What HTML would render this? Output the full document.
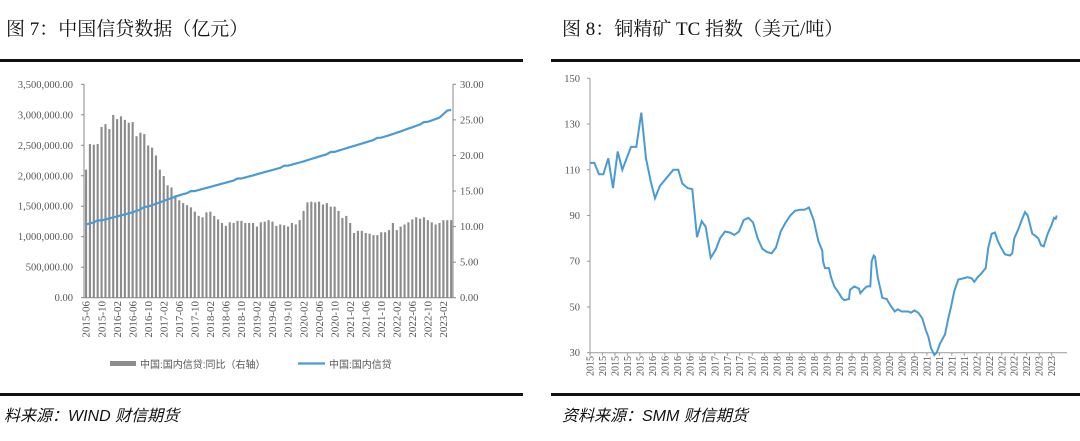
<!DOCTYPE html>
<html><head><meta charset="utf-8">
<style>
html,body{margin:0;padding:0;background:#fff;}
body{width:1080px;height:441px;overflow:hidden;position:relative;font-family:"Liberation Serif","Noto Serif CJK SC",serif;}
.t{position:absolute;top:14px;font-size:19px;color:#111;font-family:"Liberation Serif","Noto Serif CJK SC",serif;}
.src{position:absolute;top:402px;font-size:16px;font-style:italic;color:#111;font-family:"Liberation Sans","Noto Sans CJK SC",sans-serif;}
.ln{position:absolute;height:3px;background:#111;}
svg{position:absolute;left:0;top:0;}
</style></head><body>
<div class="t" style="left:6px">图 7：中国信贷数据（亿元）</div>
<div class="t" style="left:562px">图 8：铜精矿 TC 指数（美元/吨）</div>
<div class="ln" style="left:0;width:523px;top:59px"></div>
<div class="ln" style="left:551px;width:529px;top:59px"></div>
<div class="ln" style="left:0;width:523px;top:393px"></div>
<div class="ln" style="left:551px;width:529px;top:393px"></div>
<div class="src" style="left:4px">料来源：WIND 财信期货</div>
<div class="src" style="left:562px">资料来源：SMM 财信期货</div>
<svg id="s" width="1080" height="441" xmlns="http://www.w3.org/2000/svg" font-family="Liberation Serif, serif"></svg>
<script>
var s=document.getElementById('s'),h='';
var L=84,R=453,Y0=297.7,Y1=84.3;
var bars=[18,21.6,21.5,21.6,24,24.4,23.7,25.7,25.1,25.5,25,24.6,24.7,22.7,23.2,23,21.4,21.1,20,18,17.1,15.8,15.5,14.4,13.7,13.3,13,12.7,12.1,11.5,11.3,12,12.1,11.5,11,10.5,10.1,10.6,10.5,10.8,10.8,10.5,10.5,10.5,10,10.6,10.7,10.9,10.7,10.1,10.3,10.2,10,10.5,10.3,10.9,12.2,13.4,13.5,13.4,13.5,13.1,13.3,12.8,12.8,12.2,11.2,11.5,10.5,9.1,9.4,9.4,9.1,9,8.8,8.8,9.2,9.2,9.5,10.5,9.5,10,10.3,10.6,11,11.3,11.1,11.3,10.9,10.6,10.3,10.5,10.9,10.9,10.9];
var n=bars.length,step=(R-L)/n,k=(Y0-Y1)/30;
for(var i=0;i<n;i++){var x=L+i*step+step*0.25,y=Y0-bars[i]*k;h+='<rect x="'+x.toFixed(2)+'" y="'+y.toFixed(2)+'" width="'+(step*0.55).toFixed(2)+'" height="'+(Y0-y).toFixed(2)+'" fill="#8c8c8c"/>';}
var kp=[[0,10.3],[12,12],[24,14.4],[43,17.2],[55,19.0],[67,21.0],[79,23.0],[91,25.3],[93,26.3],[94,26.4]];
var pts=[];
for(var i=0;i<n;i++){var v;for(var j=0;j<kp.length-1;j++){if(i>=kp[j][0]&&i<=kp[j+1][0]){v=kp[j][1]+(kp[j+1][1]-kp[j][1])*(i-kp[j][0])/(kp[j+1][0]-kp[j][0]);break;}}
 if(i%12==3)v+=0.15;pts.push((L+i*step+step/2).toFixed(1)+','+(Y0-v*k).toFixed(1));}
h+='<polyline points="'+pts.join(' ')+'" fill="none" stroke="#4a9bd4" stroke-width="2.2"/>';
h+='<line x1="'+L+'" y1="'+Y1+'" x2="'+L+'" y2="'+Y0+'" stroke="#888"/><line x1="'+R+'" y1="'+Y1+'" x2="'+R+'" y2="'+Y0+'" stroke="#888"/><line x1="'+L+'" y1="'+Y0+'" x2="'+R+'" y2="'+Y0+'" stroke="#888"/>';
var ll=['0.00','500,000.00','1,000,000.00','1,500,000.00','2,000,000.00','2,500,000.00','3,000,000.00','3,500,000.00'];
for(var i=0;i<8;i++){var y=Y0-i*(Y0-Y1)/7;h+='<text x="73" y="'+(y+3.5).toFixed(1)+'" font-size="10.5" fill="#555" text-anchor="end">'+ll[i]+'</text><line x1="'+(L-3)+'" y1="'+y+'" x2="'+L+'" y2="'+y+'" stroke="#888"/>';}
for(var i=0;i<7;i++){var y=Y0-i*5*k;h+='<text x="460" y="'+(y+3.5).toFixed(1)+'" font-size="10.5" fill="#555">'+(i*5).toFixed(2)+'</text><line x1="'+R+'" y1="'+y+'" x2="'+(R+3)+'" y2="'+y+'" stroke="#888"/>';}
for(var i=0;i<24;i++){var mi=i*4,yy=2015+Math.floor((5+mi)/12),mm=((5+mi)%12)+1;var lab=yy+'-'+(mm<10?'0':'')+mm;var x=L+mi*step+step/2;
h+='<text transform="translate('+(x+3.8).toFixed(1)+',301) rotate(-90)" font-size="11" fill="#555" text-anchor="end">'+lab+'</text>';}
h+='<rect x="110" y="361" width="26" height="5" fill="#8c8c8c"/><text x="140" y="368" font-size="10" fill="#555" font-family="Liberation Sans, Noto Sans CJK SC, sans-serif">中国:国内信贷:同比（右轴）</text>';
h+='<line x1="298" y1="363.5" x2="325" y2="363.5" stroke="#4a9bd4" stroke-width="2.2"/><text x="329" y="368" font-size="10" fill="#555" font-family="Liberation Sans, Noto Sans CJK SC, sans-serif">中国:国内信贷</text>';
var P=[[135,113],[148,113],[162,108],[175,108],[190,115],[204,102],[218,118],[232,110],[258,120],[274,120],[289,135],[303,115],[317,105],[330,97.5],[345,103],[385,110],[400,110],[412,104],[428,102],[442,101.5],[456,80.5],[470,87.5],[482,85],[497,71.5],[512,75],[525,80],[540,83],[555,82.5],[568,81.5],[582,83],[596,88],[610,89],[624,87],[638,80],[652,75.5],[666,74],[680,73.5],[693,76],[707,83],[722,87],[736,90],[750,92],[764,92.5],[778,92.5],[792,93.5],[806,88],[820,79],[832,74.5],[834,70],[840,67],[852,67],[858,63],[868,59],[882,56],[890,54],[898,53],[912,53.5],[915,57.5],[928,59],[942,58],[946,56],[958,58],[966,59],[976,59],[980,70],[986,72.5],[990,72],[998,63],[1006,58],[1012,54],[1025,53.5],[1035,51],[1049,48],[1058,49],[1070,48],[1090,48],[1098,47.5],[1108,48.5],[1120,47.5],[1132,45],[1142,40],[1150,37],[1158,32],[1168,29],[1175,30],[1185,34],[1200,38],[1210,45],[1218,50],[1228,57],[1240,62],[1255,62.5],[1268,63],[1280,62.5],[1288,61],[1298,63],[1308,64.5],[1322,67],[1330,76],[1340,82],[1350,82.5],[1358,79],[1368,76],[1380,73],[1395,72.5],[1402,73.5],[1408,80],[1420,84],[1430,88],[1440,91.5],[1448,90],[1455,86],[1462,82],[1472,81],[1480,80],[1488,77],[1496,76.5],[1508,82],[1520,86],[1527,89],[1532,88.5],[1535,90]];
var RL=590,RR=1067,RY0=352.7,RY1=78.3,rk=(RY0-RY1)/120;
var q=P.map(function(p){return (545+p[0]/3).toFixed(1)+','+(RY0-(p[1]-30)*rk).toFixed(1);});
h+='<line x1="'+RL+'" y1="'+RY1+'" x2="'+RL+'" y2="'+RY0+'" stroke="#999"/><line x1="'+RL+'" y1="'+RY0+'" x2="'+RR+'" y2="'+RY0+'" stroke="#999"/>';
for(var i=0;i<7;i++){var y=RY0-i*20*rk;h+='<text x="580" y="'+(y+3.5).toFixed(1)+'" font-size="10.5" fill="#555" text-anchor="end">'+(30+i*20)+'</text><line x1="'+(RL-3)+'" y1="'+y+'" x2="'+RL+'" y2="'+y+'" stroke="#999"/>';}
h+='<polyline points="'+q.join(' ')+'" fill="none" stroke="#4a9bd4" stroke-width="2"/>';
var yl=[2015,2015,2015,2015,2015,2016,2016,2016,2016,2016,2017,2017,2017,2017,2018,2018,2018,2018,2018,2019,2019,2019,2019,2020,2020,2020,2020,2021,2021,2021,2021,2022,2022,2022,2022,2022,2023,2023];
for(var i=0;i<yl.length;i++){var x=RL+i*(1520/3+545-RL)/(yl.length-1);h+='<line x1="'+x.toFixed(1)+'" y1="'+RY0+'" x2="'+x.toFixed(1)+'" y2="'+(RY0+3)+'" stroke="#999"/><text transform="translate('+(x+3.5).toFixed(1)+',356) rotate(-90)" font-size="10" fill="#555" text-anchor="end">'+yl[i]+'</text>';}
s.innerHTML=h;
</script>
</body></html>
